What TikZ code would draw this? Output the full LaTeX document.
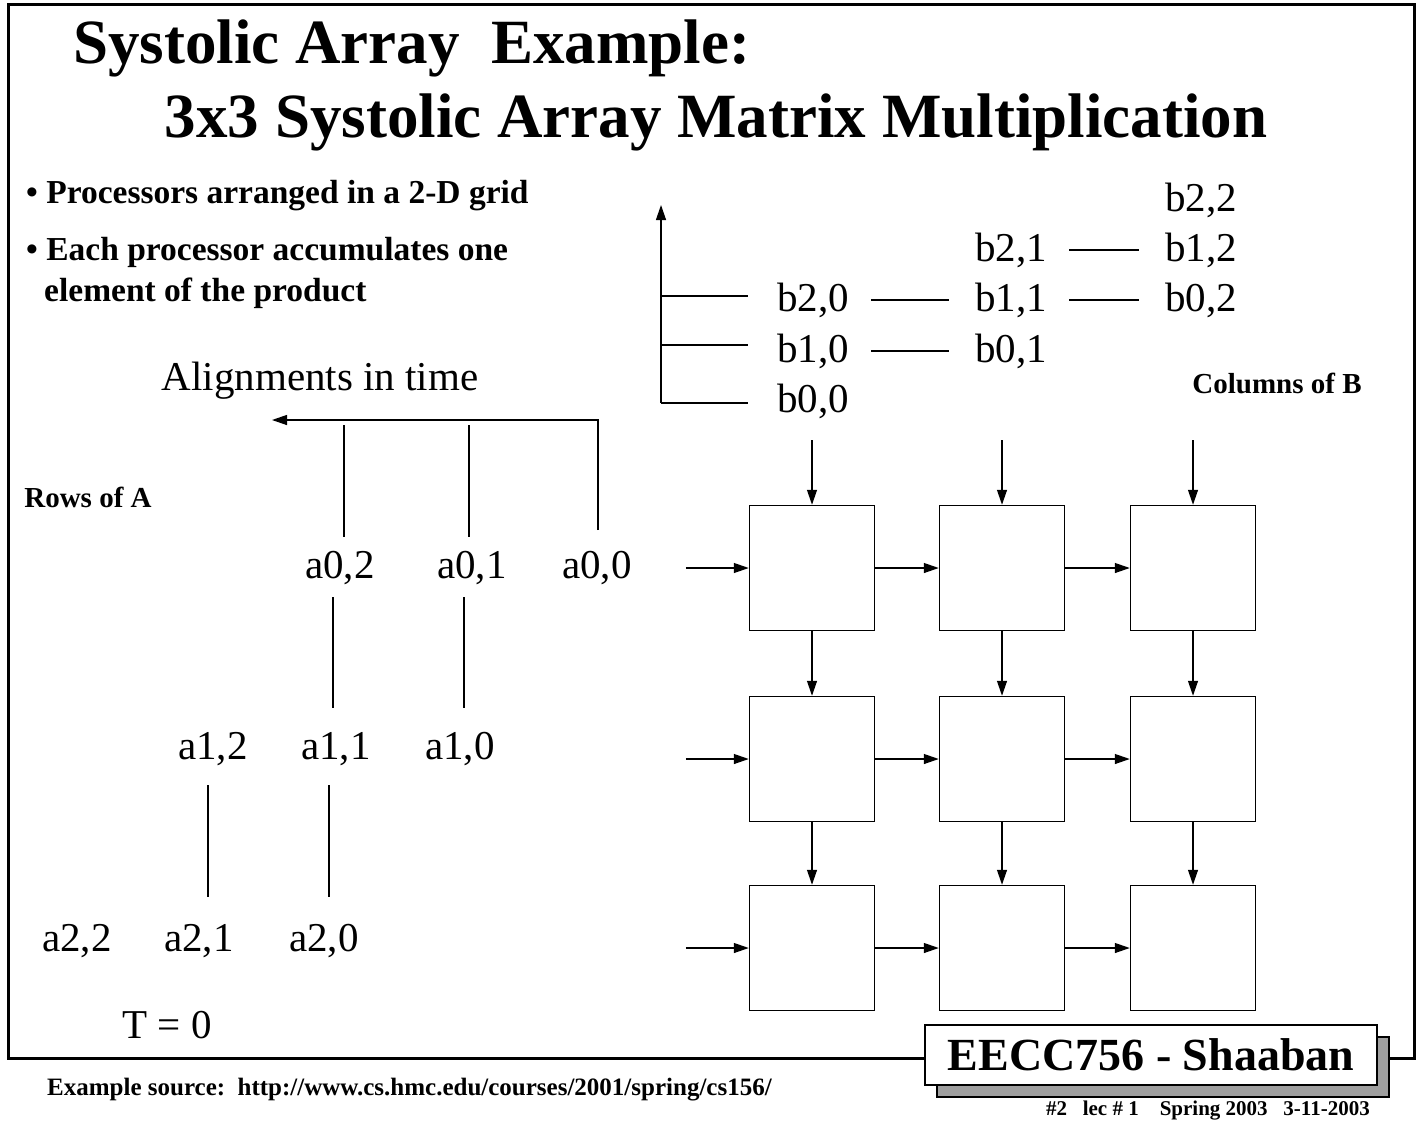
\documentclass[tikz,border=0pt]{standalone}
\usepackage{fontspec}
\setmainfont{Liberation Serif}
\usetikzlibrary{arrows.meta,calc}
\begin{document}
\begin{tikzpicture}[x=1pt,y=-1pt,
  lab/.style={font=\fontsize{41}{44}\selectfont,inner sep=0pt},
  pe/.style={draw,line width=1.5pt,minimum size=125pt,inner sep=0pt},
  ar/.style={line width=1.3pt,-{Triangle[length=15pt,width=10pt]}},
  ln/.style={line width=1.3pt},
  bt/.style={font=\bfseries\fontsize{33.5}{36}\selectfont,anchor=west,inner sep=0pt},
  sb/.style={font=\bfseries\fontsize{29}{32}\selectfont,inner sep=0pt}]
\useasboundingbox (0,0) rectangle (1422,1125);
% frame
\draw[line width=3pt] (925,1058) -- (8,1058) -- (8,4) -- (1414,4) -- (1414,1058) -- (1377,1058);
\node[font=\bfseries\fontsize{63}{64}\selectfont,anchor=west,inner sep=0pt] (t1) at (73,48) {Systolic Array\ \ Example:};
\node[font=\bfseries\fontsize{63}{64}\selectfont,inner sep=0pt] (t2) at (716,122) {3x3 Systolic Array Matrix Multiplication};
\node[bt] (p1) at (26,196) {• Processors arranged in a 2-D grid};
\node[bt] (p2) at (26,252) {• Each processor accumulates one};
\node[bt] (p3) at (44,293) {element of the product};
% B labels
\node[lab] (b00) at (813,401) {b0,0};
\node[lab] (b10) at (813,351) {b1,0};
\node[lab] (b20) at (813,300) {b2,0};
\node[lab] (b01) at (1011,351) {b0,1};
\node[lab] (b11) at (1011,300) {b1,1};
\node[lab] (b21) at (1011,250) {b2,1};
\node[lab] (b02) at (1201,300) {b0,2};
\node[lab] (b12) at (1201,250) {b1,2};
\node[lab] (b22) at (1201,200) {b2,2};
\draw[ln] ($(b20.east)+(22,0)$) -- ($(b11.west)+(-26,0)$);
\draw[ln] ($(b10.east)+(22,0)$) -- ($(b01.west)+(-26,0)$);
\draw[ln] ($(b21.east)+(22,0)$) -- ($(b12.west)+(-26,0)$);
\draw[ln] ($(b11.east)+(22,0)$) -- ($(b02.west)+(-26,0)$);
\coordinate (bt) at (661,205);
\coordinate (bb) at (661,403);
\draw[ar] (bb) -- (bt);
\draw[ln] (661,296) -- (748,296);
\draw[ln] (661,345) -- (748,345);
\draw[ln] (bb) -- (748,403);
\node[sb] (cb) at (1277,383) {Columns of B};
\node[sb] (ra) at (88,497) {Rows of A};
% A labels
\node[lab] (align) at (320,381) {Alignments in time};
\node[lab] (a02) at (340,568) {a0,2};
\node[lab] (a01) at (472,568) {a0,1};
\node[lab] (a00) at (597,568) {a0,0};
\node[lab] (a12) at (213,749) {a1,2};
\node[lab] (a11) at (336,749) {a1,1};
\node[lab] (a10) at (460,749) {a1,0};
\node[lab] (a22) at (77,941) {a2,2};
\node[lab] (a21) at (199,941) {a2,1};
\node[lab] (a20) at (324,941) {a2,0};
\node[lab] (T) at (167,1025) {T = 0};
\draw[ar] (598,530) -- (598,420) -- (272,420);
\draw[ln] (344,425) -- (344,537);
\draw[ln] (469,425) -- (469,537);
\draw[ln] (333,597) -- (333,708);
\draw[ln] (464,597) -- (464,708);
\draw[ln] (208,785) -- (208,897);
\draw[ln] (329,785) -- (329,897);
% PE grid
\foreach \c/\x in {0/812,1/1002,2/1193}{
  \foreach \r/\y in {0/568,1/759,2/948}{
    \node[pe] (pe\r\c) at (\x,\y) {};}
  \coordinate (in\c) at (\x,440);
  \draw[ar] (in\c) -- (pe0\c.north);
  \draw[ar] (pe0\c) -- (pe1\c);
  \draw[ar] (pe1\c) -- (pe2\c);}
\foreach \r in {0,1,2}{
  \coordinate (lin\r) at ($(pe\r0.west)+(-63,0)$);
  \draw[ar] (lin\r) -- (pe\r0.west);
  \draw[ar] (pe\r0) -- (pe\r1);
  \draw[ar] (pe\r1) -- (pe\r2);}
% badge
\fill[gray!75] (937,1037) rectangle (1389,1097);
\draw[line width=1.2pt] (937,1085) -- (937,1097) -- (1389,1097) -- (1389,1037) -- (1377,1037);
\node[draw,line width=1.5pt,fill=white,minimum width=452pt,minimum height=60pt,inner sep=0pt,
  font=\bfseries\fontsize{46}{48}\selectfont] (badge) at (1151,1055) {EECC756 - Shaaban};
\node[font=\bfseries\fontsize{25}{28}\selectfont,anchor=west,inner sep=0pt] (src) at (47,1090)
  {Example source:\ \ http://www.cs.hmc.edu/courses/2001/spring/cs156/};
\node[font=\bfseries\fontsize{21}{24}\selectfont,anchor=east,inner sep=0pt] (foot) at (1370,1111)
  {\#2\ \ \ lec \# 1\ \ \ \ Spring 2003\ \ \ 3-11-2003};
\end{tikzpicture}
\end{document}
